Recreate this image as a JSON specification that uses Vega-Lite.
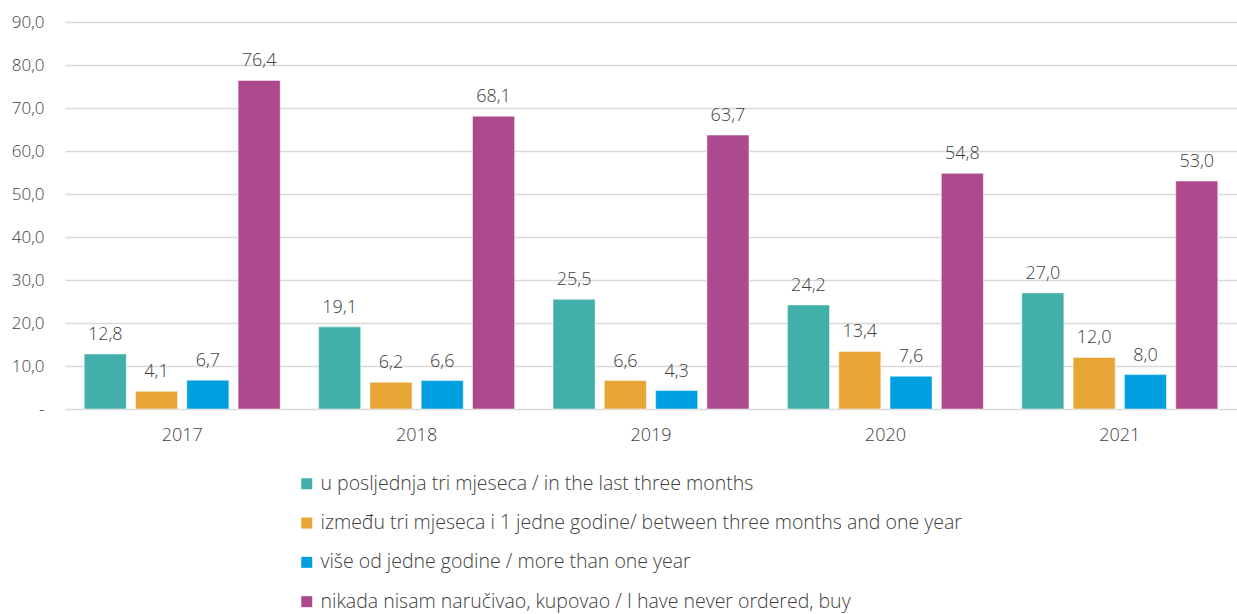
{
  "$schema": "https://vega.github.io/schema/vega-lite/v6.json",
  "width": 1172,
  "height": 387,
  "autosize": {"type": "none"},
  "padding": {"left": 65, "top": 22, "right": 0, "bottom": 205},
  "background": "white",
  "config": {
    "view": {"stroke": null},
    "font": "Open Sans",
    "locale": {"number": {"decimal": ",", "thousands": ".", "grouping": [3], "currency": ["", " €"]}},
    "axis": {"labelFont": "Open Sans", "labelColor": "#404040", "labelFontSize": 17, "labelFontWeight": 300},
    "legend": {"labelFont": "Open Sans", "labelFontWeight": 300}
  },
  "data": {
    "values": [
      {"year": "2017", "cat": "u posljednja tri mjeseca / in the last three months", "k": 1, "v": 12.8},
      {"year": "2017", "cat": "između tri mjeseca i 1 jedne godine/ between three months and one year", "k": 2, "v": 4.1},
      {"year": "2017", "cat": "više od jedne godine / more than one year", "k": 3, "v": 6.7},
      {"year": "2017", "cat": "nikada nisam naručivao, kupovao / I have never ordered, buy", "k": 4, "v": 76.4},
      {"year": "2018", "cat": "u posljednja tri mjeseca / in the last three months", "k": 1, "v": 19.1},
      {"year": "2018", "cat": "između tri mjeseca i 1 jedne godine/ between three months and one year", "k": 2, "v": 6.2},
      {"year": "2018", "cat": "više od jedne godine / more than one year", "k": 3, "v": 6.6},
      {"year": "2018", "cat": "nikada nisam naručivao, kupovao / I have never ordered, buy", "k": 4, "v": 68.1},
      {"year": "2019", "cat": "u posljednja tri mjeseca / in the last three months", "k": 1, "v": 25.5},
      {"year": "2019", "cat": "između tri mjeseca i 1 jedne godine/ between three months and one year", "k": 2, "v": 6.6},
      {"year": "2019", "cat": "više od jedne godine / more than one year", "k": 3, "v": 4.3},
      {"year": "2019", "cat": "nikada nisam naručivao, kupovao / I have never ordered, buy", "k": 4, "v": 63.7},
      {"year": "2020", "cat": "u posljednja tri mjeseca / in the last three months", "k": 1, "v": 24.2},
      {"year": "2020", "cat": "između tri mjeseca i 1 jedne godine/ between three months and one year", "k": 2, "v": 13.4},
      {"year": "2020", "cat": "više od jedne godine / more than one year", "k": 3, "v": 7.6},
      {"year": "2020", "cat": "nikada nisam naručivao, kupovao / I have never ordered, buy", "k": 4, "v": 54.8},
      {"year": "2021", "cat": "u posljednja tri mjeseca / in the last three months", "k": 1, "v": 27.0},
      {"year": "2021", "cat": "između tri mjeseca i 1 jedne godine/ between three months and one year", "k": 2, "v": 12.0},
      {"year": "2021", "cat": "više od jedne godine / more than one year", "k": 3, "v": 8.0},
      {"year": "2021", "cat": "nikada nisam naručivao, kupovao / I have never ordered, buy", "k": 4, "v": 53.0}
    ]
  },
  "encoding": {
    "x": {
      "field": "year", "type": "nominal",
      "scale": {"paddingInner": 0.164, "paddingOuter": 0.082},
      "axis": {"title": null, "labelAngle": 0, "ticks": false, "domain": false, "labelPadding": 17, "labelFontSize": 18}
    },
    "xOffset": {
      "field": "k", "type": "ordinal",
      "scale": {"paddingInner": 0.18, "paddingOuter": 0}
    },
    "y": {
      "field": "v", "type": "quantitative",
      "scale": {"domain": [0, 90], "nice": false},
      "axis": {
        "title": null, "values": [0, 10, 20, 30, 40, 50, 60, 70, 80, 90],
        "labelOverlap": false,
        "domain": false, "ticks": false, "labelPadding": 21,
        "gridColor": "#d9d9d9", "gridWidth": 1.5,
        "labelExpr": "datum.value == 0 ? '-' : format(datum.value, '.1f')"
      }
    }
  },
  "layer": [
    {
      "mark": {"type": "bar", "stroke": "white", "strokeWidth": 0.8, "strokeOpacity": 0.6},
      "encoding": {
        "color": {
          "field": "cat", "type": "nominal",
          "scale": {
            "domain": [
              "u posljednja tri mjeseca / in the last three months",
              "između tri mjeseca i 1 jedne godine/ between three months and one year",
              "više od jedne godine / more than one year",
              "nikada nisam naručivao, kupovao / I have never ordered, buy"
            ],
            "range": ["#41B0AA", "#E6A535", "#00A0E0", "#AD4A8E"]
          },
          "legend": {
            "title": null, "orient": "none", "direction": "vertical",
            "legendX": 232, "legendY": 452, "padding": 0,
            "symbolType": "square", "symbolSize": 121, "symbolStrokeWidth": 0,
            "labelFontSize": 19.5, "labelColor": "#404040", "labelOffset": 4,
            "rowPadding": 18.3, "labelLimit": 950
          }
        }
      }
    },
    {
      "mark": {"type": "text", "baseline": "bottom", "dy": -10, "fontSize": 18, "fontWeight": 300, "color": "#404040"},
      "encoding": {
        "text": {"field": "v", "type": "quantitative", "format": ".1f"}
      }
    }
  ]
}
